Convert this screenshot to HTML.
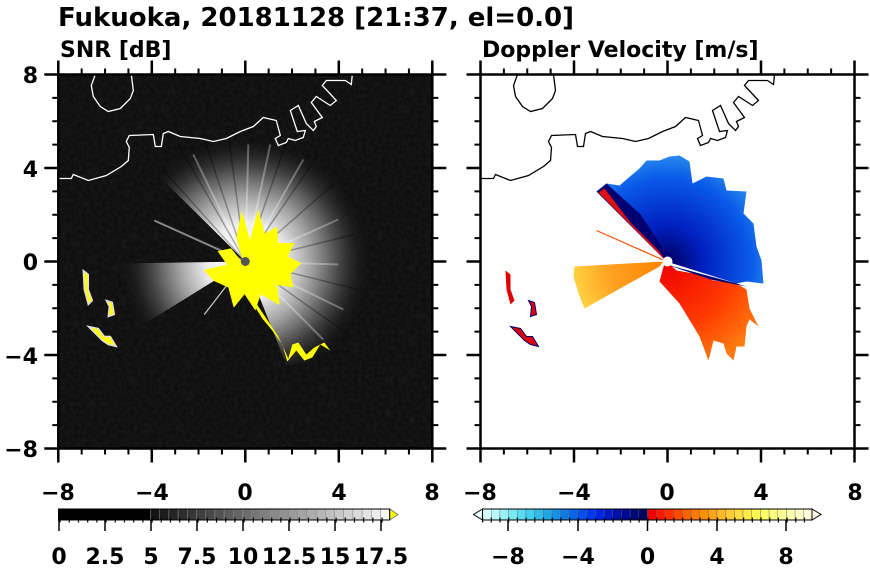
<!DOCTYPE html>
<html><head><meta charset="utf-8"><style>
html,body{margin:0;padding:0;background:#fff;}
svg{display:block;}
text{font-family:"DejaVu Sans","Liberation Sans",sans-serif;font-weight:bold;fill:#000;}
</style></head><body>
<svg width="870" height="570" viewBox="0 0 870 570" xmlns="http://www.w3.org/2000/svg">
<defs>
<radialGradient id="wg" cx="187" cy="187" r="128" gradientUnits="userSpaceOnUse">
<stop offset="0" stop-color="#ffffff"/>
<stop offset="0.3" stop-color="#eeeeee"/>
<stop offset="0.5" stop-color="#a8a8a8"/>
<stop offset="0.7" stop-color="#555555"/>
<stop offset="0.88" stop-color="#222222" stop-opacity="0.6"/>
<stop offset="1" stop-color="#0c0c0c" stop-opacity="0"/>
</radialGradient>
<radialGradient id="bg" cx="187" cy="187" r="120" gradientUnits="userSpaceOnUse">
<stop offset="0" stop-color="#000060"/>
<stop offset="0.3" stop-color="#0020c0"/>
<stop offset="0.7" stop-color="#0a5ae8"/>
<stop offset="1" stop-color="#3aa8f0"/>
</radialGradient>
<radialGradient id="rg" cx="187" cy="187" r="110" gradientUnits="userSpaceOnUse">
<stop offset="0" stop-color="#f00000"/>
<stop offset="0.6" stop-color="#ff3a00"/>
<stop offset="1" stop-color="#ff7a10"/>
</radialGradient>
<radialGradient id="og" cx="187" cy="187" r="95" gradientUnits="userSpaceOnUse">
<stop offset="0" stop-color="#ff8000"/>
<stop offset="0.6" stop-color="#ffa020"/>
<stop offset="1" stop-color="#ffd040"/>
</radialGradient>
<filter id="nz" x="0" y="0" width="1" height="1">
<feTurbulence type="fractalNoise" baseFrequency="0.25" numOctaves="2" seed="3"/>
<feColorMatrix type="matrix" values="0 0 0 0 1  0 0 0 0 1  0 0 0 0 1  0 0 0 0.07 0"/>
</filter>
</defs>

<text x="58" y="26" font-size="26">Fukuoka, 20181128 [21:37, el=0.0]</text>
<text x="60" y="57" font-size="22">SNR [dB]</text>
<text x="482" y="57" font-size="22">Doppler Velocity [m/s]</text>

<!-- LEFT PANEL -->
<g transform="translate(58.3,74.5)">
<rect x="0" y="0" width="374" height="374" fill="#0a0a0a"/>
<rect x="0" y="0" width="374" height="374" filter="url(#nz)"/>
<path d="M187,187 L95,96 L140,58 L200,50 L260,68 L295,120 L315,190 L300,250 L280,290 L228,290 Z" fill="url(#wg)"/>
<path d="M187,187 L60,189 L64,225 L82,252 Z" fill="url(#wg)"/>
<g stroke="#000" stroke-opacity="0.3" stroke-width="1.5">
<line x1="187" y1="187" x2="120" y2="70"/><line x1="187" y1="187" x2="170" y2="60"/>
<line x1="187" y1="187" x2="230" y2="62"/><line x1="187" y1="187" x2="275" y2="110"/>
<line x1="187" y1="187" x2="300" y2="215"/><line x1="187" y1="187" x2="290" y2="260"/>
<line x1="187" y1="187" x2="100" y2="90"/><line x1="187" y1="187" x2="260" y2="80"/>
<line x1="187" y1="187" x2="296" y2="160"/><line x1="187" y1="187" x2="145" y2="62"/>
</g>
<g stroke="#fff" stroke-opacity="0.3" stroke-width="2">
<line x1="187" y1="187" x2="135" y2="80"/><line x1="187" y1="187" x2="190" y2="70"/>
<line x1="187" y1="187" x2="245" y2="85"/><line x1="187" y1="187" x2="280" y2="145"/>
<line x1="187" y1="187" x2="285" y2="235"/><line x1="187" y1="187" x2="265" y2="265"/>
<line x1="187" y1="187" x2="212" y2="70"/><line x1="187" y1="187" x2="280" y2="190"/>
</g>
<line x1="187" y1="187" x2="96" y2="146" stroke="#888" stroke-width="2"/>
<line x1="187" y1="187" x2="146" y2="240" stroke="#ccc" stroke-width="1.2"/>
<g transform="translate(193,182) scale(1.35) translate(-193,-182)">
<path d="M187,187 L182,168 L186,148 L192,170 L198,147 L203,165 L212,160 L213,172 L225,172 L220,182 L230,187 L222,195 L224,205 L212,203 L214,218 L200,210 L196,222 L188,210 L180,220 L176,205 L165,200 L158,192 L175,188 L168,178 L178,176 Z" fill="#ffff00"/>
</g>
<path d="M178,205 L188,212 L200,232 L212,250 L220,262 L226,275 L230,284 L234,270 L240,268 L248,280 L256,273 L266,268 L272,276 L262,270 L254,283 L246,286 L238,276 L229,287 L224,270 L214,256 L204,244 L194,228 L183,214 Z" fill="#ffff00"/>
<path d="M25,196 L30,200 L30,215 L34,226 L30,230 L26,215 Z" fill="#ffff00" stroke="#ddd" stroke-width="1.5"/>
<path d="M48,226 L54,228 L56,240 L50,242 L51,232 Z" fill="#ffff00" stroke="#ddd" stroke-width="1.5"/>
<path d="M30,252 L40,254 L46,262 L52,262 L58,272 L50,270 L44,266 L38,260 Z" fill="#ffff00" stroke="#ddd" stroke-width="1.5"/>
<circle cx="187" cy="187" r="4.5" fill="#555"/>
<g fill="none" stroke="#fff" stroke-width="1.3">
<polyline points="0,104 13,104 15,100 30,106 48,101 63,92 70,86 71,73 68,67 71,61 95,60 97,72 103,72 105,59 110,57 122,62 142,64 155,67 168,64 182,57 195,52 205,43 218,46 222,61 217,64 220,71 228,68 230,64 237,66 245,63 247,56 239,57 232,36 240,31 248,49 255,56 258,52 256,47 264,43 253,28 258,22 272,31 278,26 264,11 268,6 287,6 293,10 294,0"/>
<polyline points="37,0 33,11 35,22 42,32 50,37 62,34 72,24 75,16 73,0"/>
</g>
<rect x="0" y="0" width="374" height="374" fill="none" stroke="#000" stroke-width="2.5"/>
<g stroke="#000" stroke-width="6" stroke-dasharray="2 21.375" fill="none">
<line x1="-1" y1="-3" x2="376" y2="-3"/><line x1="-1" y1="377" x2="376" y2="377"/>
<line x1="-3" y1="-1" x2="-3" y2="376"/><line x1="377" y1="-1" x2="377" y2="376"/>
</g>
<g stroke="#000" stroke-width="14" stroke-dasharray="2.5 91" fill="none">
<line x1="-1.25" y1="-7" x2="376" y2="-7"/><line x1="-1.25" y1="381" x2="376" y2="381"/>
<line x1="-7" y1="-1.25" x2="-7" y2="376"/><line x1="381" y1="-1.25" x2="381" y2="376"/>
</g>
</g>

<!-- RIGHT PANEL -->
<g transform="translate(480.5,74.5)">
<path d="M186,187 L116,117 L126,109 L139,111 L153,99 L159,94 L166,86 L179,86 L189,82 L199,81 L209,87 L212,109 L226,102 L243,104 L246,116 L266,117 L263,139 L273,149 L276,172 L281,186 L283,209 L266,207 L256,209 Z" fill="url(#bg)"/>
<path d="M186,187 L116,117 L126,109 L160,140 L180,170 Z" fill="#000070"/>
<path d="M186,187 L118,118 L124,114 L150,148 L178,176 Z" fill="#e01010"/>
<path d="M186,187 L196,196 L213,199 L233,206 L256,209 L266,215 L269,234 L278,252 L269,245 L266,252 L264,272 L256,272 L253,286 L246,279 L243,269 L233,266 L228,286 L219,262 L213,252 L199,229 L179,207 L183,192 Z" fill="url(#rg)"/>
<path d="M186,190 L256,209 L266,212 L230,205 Z" fill="#000070"/>
<path d="M183,187 L94,192 L93,202 L98,219 L104,234 L179,192 Z" fill="url(#og)"/>
<line x1="186" y1="187" x2="116" y2="156" stroke="#ff5000" stroke-width="1.2"/>
<path d="M25,196 L30,200 L30,215 L34,226 L30,230 L26,215 Z" fill="#e00000"/>
<path d="M48,226 L54,228 L56,240 L50,242 L51,232 Z" fill="#e00000" stroke="#000070" stroke-width="1"/>
<path d="M30,252 L40,254 L46,262 L52,262 L58,272 L50,270 L44,266 L38,260 Z" fill="#e00000" stroke="#000070" stroke-width="1"/>
<circle cx="187" cy="187" r="5" fill="#fff"/>
<g fill="none" stroke="#000" stroke-width="1.3">
<polyline points="0,104 13,104 15,100 30,106 48,101 63,92 70,86 71,73 68,67 71,61 95,60 97,72 103,72 105,59 110,57 122,62 142,64 155,67 168,64 182,57 195,52 205,43 218,46 222,61 217,64 220,71 228,68 230,64 237,66 245,63 247,56 239,57 232,36 240,31 248,49 255,56 258,52 256,47 264,43 253,28 258,22 272,31 278,26 264,11 268,6 287,6 293,10 294,0"/>
<polyline points="37,0 33,11 35,22 42,32 50,37 62,34 72,24 75,16 73,0"/>
</g>
<rect x="0" y="0" width="374" height="374" fill="none" stroke="#000" stroke-width="2.5"/>
<g stroke="#000" stroke-width="6" stroke-dasharray="2 21.375" fill="none">
<line x1="-1" y1="-3" x2="376" y2="-3"/><line x1="-1" y1="377" x2="376" y2="377"/>
<line x1="-3" y1="-1" x2="-3" y2="376"/><line x1="377" y1="-1" x2="377" y2="376"/>
</g>
<g stroke="#000" stroke-width="14" stroke-dasharray="2.5 91" fill="none">
<line x1="-1.25" y1="-7" x2="376" y2="-7"/><line x1="-1.25" y1="381" x2="376" y2="381"/>
<line x1="-7" y1="-1.25" x2="-7" y2="376"/><line x1="381" y1="-1.25" x2="381" y2="376"/>
</g>
</g>

<!-- Axis labels -->
<g font-size="22" text-anchor="end">
<text x="38" y="83">8</text><text x="38" y="177">4</text><text x="38" y="270">0</text><text x="38" y="364">−4</text><text x="38" y="457">−8</text>
</g>
<g font-size="22" text-anchor="middle">
<text x="58" y="500">−8</text><text x="152" y="500">−4</text><text x="245" y="500">0</text><text x="339" y="500">4</text><text x="432" y="500">8</text>
<text x="480" y="500">−8</text><text x="574" y="500">−4</text><text x="667" y="500">0</text><text x="761" y="500">4</text><text x="855" y="500">8</text>
</g>

<!-- Left colorbar -->
<g stroke="#888" stroke-width="0.5">
<rect x="58.5" y="509" width="92" height="11" fill="#000"/>
<rect x="150.5" y="509" width="9.2" height="11" fill="#141414"/>
<rect x="159.7" y="509" width="9.2" height="11" fill="#1c1c1c"/>
<rect x="168.9" y="509" width="9.2" height="11" fill="#242424"/>
<rect x="178.1" y="509" width="9.2" height="11" fill="#2d2d2d"/>
<rect x="187.3" y="509" width="9.2" height="11" fill="#363636"/>
<rect x="196.5" y="509" width="9.2" height="11" fill="#3f3f3f"/>
<rect x="205.7" y="509" width="9.2" height="11" fill="#484848"/>
<rect x="214.9" y="509" width="9.2" height="11" fill="#525252"/>
<rect x="224.1" y="509" width="9.2" height="11" fill="#5b5b5b"/>
<rect x="233.3" y="509" width="9.2" height="11" fill="#656565"/>
<rect x="242.5" y="509" width="9.2" height="11" fill="#6e6e6e"/>
<rect x="251.7" y="509" width="9.2" height="11" fill="#777"/>
<rect x="260.9" y="509" width="9.2" height="11" fill="#808080"/>
<rect x="270.1" y="509" width="9.2" height="11" fill="#898989"/>
<rect x="279.3" y="509" width="9.2" height="11" fill="#929292"/>
<rect x="288.5" y="509" width="9.2" height="11" fill="#9b9b9b"/>
<rect x="297.7" y="509" width="9.2" height="11" fill="#a4a4a4"/>
<rect x="306.9" y="509" width="9.2" height="11" fill="#adadad"/>
<rect x="316.1" y="509" width="9.2" height="11" fill="#b6b6b6"/>
<rect x="325.3" y="509" width="9.2" height="11" fill="#bfbfbf"/>
<rect x="334.5" y="509" width="9.2" height="11" fill="#c8c8c8"/>
<rect x="343.7" y="509" width="9.2" height="11" fill="#d1d1d1"/>
<rect x="352.9" y="509" width="9.2" height="11" fill="#dadada"/>
<rect x="362.1" y="509" width="9.2" height="11" fill="#e3e3e3"/>
<rect x="371.3" y="509" width="9.2" height="11" fill="#ececec"/>
<rect x="380.5" y="509" width="9.2" height="11" fill="#f5f5f5"/>
</g>
<path d="M389.7,509 L398,514.5 L389.7,520 Z" fill="#ffff00" stroke="#666" stroke-width="0.8"/>
<rect x="58.5" y="509" width="331.2" height="11" fill="none" stroke="#000" stroke-width="1"/>
<line x1="59.5" y1="520" x2="389" y2="520" stroke="#000" stroke-width="5" stroke-dasharray="1.2 8"/>
<g stroke="#000" stroke-width="1.5">
<line x1="59" y1="520" x2="59" y2="531"/><line x1="105" y1="520" x2="105" y2="531"/><line x1="151" y1="520" x2="151" y2="531"/><line x1="197" y1="520" x2="197" y2="531"/><line x1="243" y1="520" x2="243" y2="531"/><line x1="289" y1="520" x2="289" y2="531"/><line x1="335" y1="520" x2="335" y2="531"/><line x1="381" y1="520" x2="381" y2="531"/>
</g>
<g font-size="22" text-anchor="middle">
<text x="59" y="564">0</text><text x="105" y="564">2.5</text><text x="151" y="564">5</text><text x="197" y="564">7.5</text><text x="243" y="564">10</text><text x="289" y="564">12.5</text><text x="335" y="564">15</text><text x="381" y="564">17.5</text>
</g>

<!-- Right colorbar -->
<g stroke="#666" stroke-width="0.4">
<rect x="482.5" y="509" width="8.7" height="11" fill="#d8ffff"/>
<rect x="491.2" y="509" width="8.7" height="11" fill="#b8fafc"/>
<rect x="499.9" y="509" width="8.7" height="11" fill="#98f2f8"/>
<rect x="508.6" y="509" width="8.7" height="11" fill="#78e8f4"/>
<rect x="517.2" y="509" width="8.7" height="11" fill="#58dcf0"/>
<rect x="525.9" y="509" width="8.7" height="11" fill="#40cdee"/>
<rect x="534.6" y="509" width="8.7" height="11" fill="#30bbea"/>
<rect x="543.3" y="509" width="8.7" height="11" fill="#20a6e6"/>
<rect x="552.0" y="509" width="8.7" height="11" fill="#1690e4"/>
<rect x="560.7" y="509" width="8.7" height="11" fill="#107ae4"/>
<rect x="569.3" y="509" width="8.7" height="11" fill="#0a64e8"/>
<rect x="578.0" y="509" width="8.7" height="11" fill="#064eee"/>
<rect x="586.7" y="509" width="8.7" height="11" fill="#0038f4"/>
<rect x="595.4" y="509" width="8.7" height="11" fill="#0024e8"/>
<rect x="604.1" y="509" width="8.7" height="11" fill="#0018c8"/>
<rect x="612.8" y="509" width="8.7" height="11" fill="#0010a8"/>
<rect x="621.4" y="509" width="8.7" height="11" fill="#000a90"/>
<rect x="630.1" y="509" width="8.7" height="11" fill="#000878"/>
<rect x="638.8" y="509" width="8.7" height="11" fill="#000660"/>
<rect x="647.5" y="509" width="8.7" height="11" fill="#f00000"/>
<rect x="656.2" y="509" width="8.7" height="11" fill="#ff1800"/>
<rect x="664.9" y="509" width="8.7" height="11" fill="#ff3000"/>
<rect x="673.5" y="509" width="8.7" height="11" fill="#ff4800"/>
<rect x="682.2" y="509" width="8.7" height="11" fill="#ff6000"/>
<rect x="690.9" y="509" width="8.7" height="11" fill="#ff7800"/>
<rect x="699.6" y="509" width="8.7" height="11" fill="#ff9000"/>
<rect x="708.3" y="509" width="8.7" height="11" fill="#ffa418"/>
<rect x="717.0" y="509" width="8.7" height="11" fill="#ffb828"/>
<rect x="725.6" y="509" width="8.7" height="11" fill="#ffcc38"/>
<rect x="734.3" y="509" width="8.7" height="11" fill="#ffdc40"/>
<rect x="743.0" y="509" width="8.7" height="11" fill="#ffec48"/>
<rect x="751.7" y="509" width="8.7" height="11" fill="#fff650"/>
<rect x="760.4" y="509" width="8.7" height="11" fill="#ffff68"/>
<rect x="769.1" y="509" width="8.7" height="11" fill="#ffff80"/>
<rect x="777.7" y="509" width="8.7" height="11" fill="#ffff98"/>
<rect x="786.4" y="509" width="8.7" height="11" fill="#ffffb0"/>
<rect x="795.1" y="509" width="8.7" height="11" fill="#ffffc8"/>
<rect x="803.8" y="509" width="8.2" height="11" fill="#ffffdc"/>
</g>
<path d="M482.5,509 L473.5,514.5 L482.5,520 Z" fill="#eaffff" stroke="#000" stroke-width="1"/>
<path d="M812,509 L821,514.5 L812,520 Z" fill="#fffff0" stroke="#000" stroke-width="1"/>
<rect x="482.5" y="509" width="329.5" height="11" fill="none" stroke="#000" stroke-width="1"/>
<line x1="482" y1="520" x2="812" y2="520" stroke="#000" stroke-width="5" stroke-dasharray="1.2 7.5"/>
<g stroke="#000" stroke-width="1.5">
<line x1="508" y1="520" x2="508" y2="531"/><line x1="578" y1="520" x2="578" y2="531"/><line x1="647.5" y1="520" x2="647.5" y2="531"/><line x1="717" y1="520" x2="717" y2="531"/><line x1="786" y1="520" x2="786" y2="531"/>
</g>
<g font-size="22" text-anchor="middle">
<text x="508" y="564">−8</text><text x="578" y="564">−4</text><text x="647.5" y="564">0</text><text x="717" y="564">4</text><text x="786" y="564">8</text>
</g>
</svg>
</body></html>
